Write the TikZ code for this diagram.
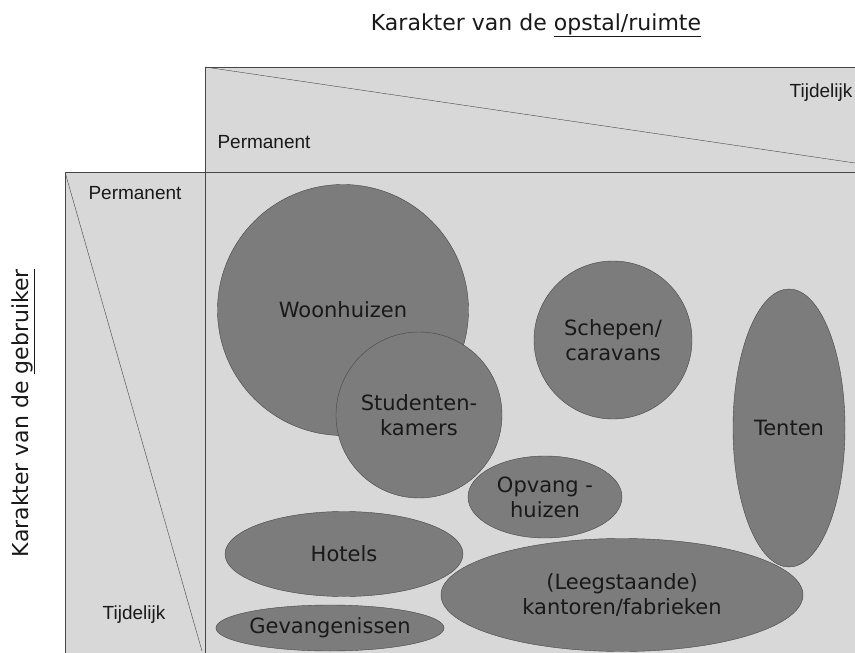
\documentclass[tikz,border=0pt]{standalone}
\usepackage{fontspec}
\setmainfont{DejaVu Sans}
\newfontfamily\arialfont{Liberation Sans}
\usetikzlibrary{shapes.geometric}
\definecolor{panelgray}{RGB}{216,216,216}
\definecolor{blobgray}{RGB}{124,124,124}
\definecolor{linegray}{RGB}{70,70,70}
\definecolor{textgray}{RGB}{25,25,25}
\tikzset{
  blob/.style={ellipse, draw=linegray, fill=blobgray, inner sep=0pt, align=center,
    text=textgray, font=\fontsize{21}{25}\selectfont},
  axislabel/.style={text=textgray, font=\arialfont\fontsize{19}{22}\selectfont},
  axistitle/.style={text=textgray, font=\fontsize{22}{26}\selectfont},
}
\begin{document}
\begin{tikzpicture}[x=1pt,y=-1pt]
\useasboundingbox (0,0) rectangle (855,653);
% panels begin
\draw[linegray, fill=panelgray] (205,67) rectangle (860,172);
\draw[linegray] (205,67) -- (855,163);
\draw[linegray, fill=panelgray] (65,172) rectangle (205,660);
\draw[linegray] (65,172) -- (202,651);
\draw[linegray, fill=panelgray] (205,172) rectangle (860,660);
% panels end
\node[axistitle] (roomtitle) at (536,25) {Karakter van de \underline{opstal/ruimte}};
\node[axistitle, rotate=90] (usertitle) at (23,413) {Karakter van de \underline{gebruiker}};
\node[axislabel] (roomperm) at (264,142) {Permanent};
\node[axislabel] (roomtemp) at (821,93) {Tijdelijk};
\node[axislabel] (userperm) at (135,193) {Permanent};
\node[axislabel] (usertemp) at (134,615) {Tijdelijk};
% blobs begin
\node[blob, minimum width=251, minimum height=251] (woon) at (343,310) {Woonhuizen};
\node[blob, minimum width=166, minimum height=166] (student) at (419,415) {Studenten-\\kamers};
\node[blob, minimum width=158, minimum height=158] (schepen) at (613,340) {Schepen/\\caravans};
\node[blob, minimum width=112, minimum height=278] (tenten) at (789,428) {Tenten};
\node[blob, minimum width=154, minimum height=82] (opvang) at (545,497) {Opvang -\\huizen};
\node[blob, minimum width=238, minimum height=85] (hotels) at (344,554) {Hotels};
\node[blob, minimum width=362, minimum height=113] (leeg) at (622,595) {(Leegstaande)\\kantoren/fabrieken};
\node[blob, minimum width=224, minimum height=46] (gevang) at (330,628) {Gevangenissen};
% blobs end
\end{tikzpicture}
\end{document}
